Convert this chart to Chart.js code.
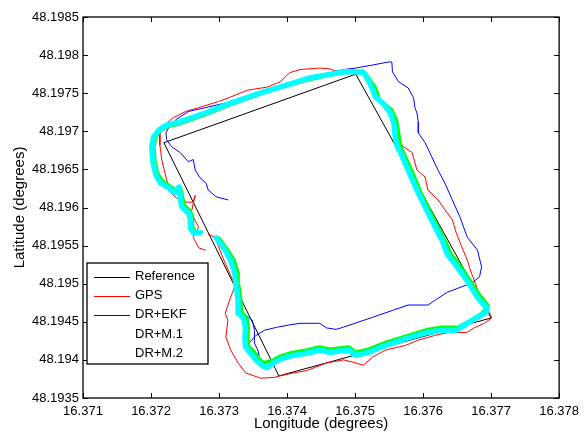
<!DOCTYPE html>
<html>
<head>
<meta charset="utf-8">
<script src="https://cdn.jsdelivr.net/npm/chart.js@4"></script>
<style>
    html, body { margin: 0; padding: 0; background: #fff; }
</style>
</head>
<body>
<canvas id="track-chart" width="585" height="433"></canvas>
<script>
// [longitude, latitude] pairs
var referencePath = [
    [16.37219, 48.19685], [16.37501, 48.19775], [16.37700, 48.19455], [16.37388, 48.19379], [16.37219, 48.19685]
];

var gpsPath = [
    [16.37284, 48.19565], [16.37294, 48.19561], [16.37307, 48.19531], [16.37320, 48.19505], [16.37323, 48.19496],
    [16.37317, 48.19482], [16.37309, 48.19461], [16.37313, 48.19452], [16.37310, 48.19430], [16.37317, 48.19413],
    [16.37328, 48.19396], [16.37339, 48.19383], [16.37361, 48.19376], [16.37381, 48.19377], [16.37390, 48.19379],
    [16.37410, 48.19383], [16.37429, 48.19386], [16.37458, 48.19396], [16.37483, 48.19400], [16.37497, 48.19397],
    [16.37512, 48.19393], [16.37526, 48.19404], [16.37545, 48.19413], [16.37574, 48.19419], [16.37593, 48.19426],
    [16.37617, 48.19432], [16.37636, 48.19436], [16.37664, 48.19436], [16.37675, 48.19442], [16.37690, 48.19448],
    [16.37701, 48.19455], [16.37694, 48.19469], [16.37683, 48.19481], [16.37678, 48.19498], [16.37671, 48.19514],
    [16.37665, 48.19531], [16.37657, 48.19548], [16.37649, 48.19566], [16.37643, 48.19584], [16.37632, 48.19597],
    [16.37622, 48.19610], [16.37607, 48.19623], [16.37603, 48.19640], [16.37591, 48.19649], [16.37584, 48.19672],
    [16.37571, 48.19680], [16.37559, 48.19693], [16.37552, 48.19724], [16.37541, 48.19737], [16.37526, 48.19757],
    [16.37513, 48.19774], [16.37501, 48.19778], [16.37472, 48.19779], [16.37462, 48.19782], [16.37448, 48.19783],
    [16.37419, 48.19781], [16.37404, 48.19777], [16.37390, 48.19765], [16.37371, 48.19758], [16.37342, 48.19754],
    [16.37317, 48.19745], [16.37299, 48.19739], [16.37270, 48.19731], [16.37251, 48.19726], [16.37233, 48.19718],
    [16.37219, 48.19708], [16.37213, 48.19698], [16.37213, 48.19682], [16.37216, 48.19662], [16.37223, 48.19636],
    [16.37229, 48.19619], [16.37245, 48.19607], [16.37262, 48.19607], [16.37265, 48.19616], [16.37259, 48.19593],
    [16.37270, 48.19574], [16.37262, 48.19561], [16.37270, 48.19547], [16.37280, 48.19544]
];

var ekfPath = [
    [16.37313, 48.19610], [16.37296, 48.19614], [16.37284, 48.19623], [16.37281, 48.19632], [16.37272, 48.19639],
    [16.37265, 48.19649], [16.37262, 48.19663], [16.37255, 48.19660], [16.37243, 48.19672], [16.37230, 48.19680],
    [16.37223, 48.19689], [16.37222, 48.19698], [16.37226, 48.19705], [16.37236, 48.19715], [16.37255, 48.19726],
    [16.37280, 48.19731], [16.37328, 48.19741], [16.37371, 48.19754], [16.37415, 48.19766], [16.37439, 48.19772],
    [16.37468, 48.19778], [16.37483, 48.19781], [16.37501, 48.19783], [16.37526, 48.19787], [16.37549, 48.19791],
    [16.37554, 48.19791], [16.37555, 48.19778], [16.37564, 48.19765], [16.37578, 48.19757], [16.37586, 48.19744],
    [16.37588, 48.19731], [16.37591, 48.19724], [16.37593, 48.19712], [16.37593, 48.19698], [16.37603, 48.19685],
    [16.37613, 48.19666], [16.37622, 48.19649], [16.37632, 48.19632], [16.37643, 48.19610], [16.37654, 48.19588],
    [16.37665, 48.19561], [16.37680, 48.19544], [16.37686, 48.19522], [16.37683, 48.19509], [16.37672, 48.19501],
    [16.37657, 48.19496], [16.37636, 48.19489], [16.37617, 48.19478], [16.37607, 48.19472], [16.37578, 48.19472],
    [16.37555, 48.19465], [16.37526, 48.19456], [16.37483, 48.19443], [16.37472, 48.19440], [16.37458, 48.19442],
    [16.37448, 48.19448], [16.37419, 48.19448], [16.37404, 48.19446], [16.37386, 48.19443], [16.37367, 48.19439],
    [16.37354, 48.19432], [16.37345, 48.19423], [16.37339, 48.19413], [16.37345, 48.19408], [16.37354, 48.19409],
    [16.37359, 48.19406], [16.37357, 48.19413], [16.37352, 48.19422], [16.37352, 48.19439], [16.37349, 48.19452],
    [16.37342, 48.19457]
];

var m1Path = [
    [16.37274, 48.19568], [16.37264, 48.19569], [16.37261, 48.19576], [16.37261, 48.19586], [16.37258, 48.19595],
    [16.37249, 48.19603], [16.37246, 48.19615], [16.37243, 48.19627], [16.37238, 48.19622], [16.37228, 48.19628],
    [16.37217, 48.19635], [16.37210, 48.19644], [16.37206, 48.19659], [16.37204, 48.19680], [16.37207, 48.19693],
    [16.37214, 48.19701], [16.37223, 48.19706], [16.37242, 48.19710], [16.37280, 48.19722], [16.37317, 48.19735],
    [16.37367, 48.19751], [16.37414, 48.19764], [16.37458, 48.19773], [16.37483, 48.19777], [16.37512, 48.19779],
    [16.37520, 48.19770], [16.37530, 48.19757], [16.37536, 48.19741], [16.37554, 48.19728], [16.37561, 48.19714],
    [16.37564, 48.19697], [16.37567, 48.19681], [16.37571, 48.19672], [16.37583, 48.19649], [16.37597, 48.19619],
    [16.37614, 48.19588], [16.37632, 48.19557], [16.37641, 48.19539], [16.37651, 48.19528], [16.37668, 48.19506],
    [16.37684, 48.19484], [16.37696, 48.19471], [16.37686, 48.19461], [16.37670, 48.19452], [16.37652, 48.19443],
    [16.37628, 48.19443], [16.37607, 48.19440], [16.37578, 48.19432], [16.37545, 48.19423], [16.37520, 48.19414],
    [16.37501, 48.19410], [16.37491, 48.19417], [16.37462, 48.19414], [16.37448, 48.19417], [16.37429, 48.19413],
    [16.37404, 48.19409], [16.37390, 48.19405], [16.37380, 48.19400], [16.37365, 48.19396], [16.37357, 48.19404],
    [16.37351, 48.19411], [16.37343, 48.19418], [16.37342, 48.19429], [16.37343, 48.19442], [16.37341, 48.19455],
    [16.37333, 48.19463], [16.37332, 48.19478], [16.37329, 48.19498], [16.37328, 48.19514], [16.37322, 48.19531],
    [16.37313, 48.19544], [16.37300, 48.19560]
];

var m2Path = [
    [16.37272, 48.19567], [16.37262, 48.19567], [16.37258, 48.19573], [16.37258, 48.19584], [16.37255, 48.19593],
    [16.37245, 48.19601], [16.37243, 48.19614], [16.37241, 48.19627], [16.37235, 48.19619], [16.37226, 48.19626],
    [16.37214, 48.19632], [16.37207, 48.19643], [16.37203, 48.19659], [16.37201, 48.19680], [16.37204, 48.19693],
    [16.37212, 48.19702], [16.37222, 48.19708], [16.37241, 48.19712], [16.37280, 48.19724], [16.37317, 48.19737],
    [16.37367, 48.19752], [16.37415, 48.19765], [16.37433, 48.19770], [16.37458, 48.19774], [16.37483, 48.19778],
    [16.37501, 48.19778], [16.37513, 48.19777], [16.37523, 48.19761], [16.37530, 48.19745], [16.37541, 48.19737],
    [16.37552, 48.19724], [16.37557, 48.19711], [16.37559, 48.19693], [16.37562, 48.19680], [16.37567, 48.19672],
    [16.37578, 48.19649], [16.37593, 48.19619], [16.37610, 48.19588], [16.37628, 48.19557], [16.37636, 48.19538],
    [16.37646, 48.19527], [16.37664, 48.19505], [16.37680, 48.19482], [16.37694, 48.19468], [16.37693, 48.19463],
    [16.37680, 48.19456], [16.37665, 48.19448], [16.37649, 48.19439], [16.37628, 48.19439], [16.37607, 48.19436],
    [16.37578, 48.19429], [16.37545, 48.19419], [16.37520, 48.19410], [16.37501, 48.19406], [16.37491, 48.19413],
    [16.37462, 48.19410], [16.37448, 48.19413], [16.37429, 48.19409], [16.37404, 48.19405], [16.37390, 48.19401],
    [16.37380, 48.19396], [16.37371, 48.19390], [16.37364, 48.19392], [16.37354, 48.19400], [16.37346, 48.19409],
    [16.37339, 48.19417], [16.37338, 48.19429], [16.37339, 48.19442], [16.37336, 48.19455], [16.37329, 48.19461],
    [16.37328, 48.19478], [16.37325, 48.19498], [16.37323, 48.19514], [16.37317, 48.19531], [16.37309, 48.19544],
    [16.37296, 48.19560]
];

var xTicks = [16.371, 16.372, 16.373, 16.374, 16.375, 16.376, 16.377, 16.378];
var yTicks = [48.1935, 48.194, 48.1945, 48.195, 48.1955, 48.196, 48.1965, 48.197, 48.1975, 48.198, 48.1985];

function toPoints(path) {
    return path.map(function (p) { return {x: p[0], y: p[1]}; });
}

function fmt(v) {
    return String(+v.toFixed(4));
}

// box round the axes with inward tick marks, like the original figure
var framePlugin = {
    id: 'frame',
    afterDatasetsDraw: function (chart) {
        var ctx = chart.ctx, a = chart.chartArea;
        var sx = chart.scales.x, sy = chart.scales.y;
        var tick = 5;
        ctx.save();
        ctx.strokeStyle = '#000';
        ctx.lineWidth = 1.3;
        ctx.strokeRect(a.left, a.top, a.right - a.left, a.bottom - a.top);
        ctx.lineWidth = 1;
        ctx.beginPath();
        xTicks.forEach(function (v) {
            var px = Math.round(sx.getPixelForValue(v)) + 0.5;
            ctx.moveTo(px, a.bottom); ctx.lineTo(px, a.bottom - tick);
            ctx.moveTo(px, a.top); ctx.lineTo(px, a.top + tick);
        });
        yTicks.forEach(function (v) {
            var py = Math.round(sy.getPixelForValue(v)) + 0.5;
            ctx.moveTo(a.left, py); ctx.lineTo(a.left + tick, py);
            ctx.moveTo(a.right, py); ctx.lineTo(a.right - tick, py);
        });
        ctx.stroke();
        ctx.restore();
    }
};

// legend box in the lower left corner, M.1 / M.2 have no line sample
var boxLegendPlugin = {
    id: 'boxLegend',
    afterDraw: function (chart) {
        var ctx = chart.ctx, a = chart.chartArea;
        var left = a.left + 4, top = a.bottom - 135, w = 121, h = 101;
        var rowH = 19.2;
        ctx.save();
        ctx.fillStyle = '#fff';
        ctx.fillRect(left, top, w, h);
        ctx.strokeStyle = '#000';
        ctx.lineWidth = 1.3;
        ctx.strokeRect(left, top, w, h);
        ctx.font = '13px "Liberation Sans", Arial, sans-serif';
        ctx.textBaseline = 'middle';
        ctx.fillStyle = '#000';
        chart.data.datasets.forEach(function (ds, i) {
            var y = top + 13.5 + i * rowH;
            if (ds.legendSample) {
                ctx.strokeStyle = ds.borderColor;
                ctx.lineWidth = 1;
                ctx.beginPath();
                ctx.moveTo(left + 7, Math.round(y) + 0.5);
                ctx.lineTo(left + 43, Math.round(y) + 0.5);
                ctx.stroke();
            }
            ctx.fillText(ds.label, left + 48, y);
        });
        ctx.restore();
    }
};

var tickFont = {family: '"Liberation Sans", Arial, sans-serif', size: 13};
var titleFont = {family: '"Liberation Sans", Arial, sans-serif', size: 15};

var ctx = document.getElementById('track-chart').getContext('2d');
var chart = new Chart(ctx, {
    type: 'scatter',
    data: {
        datasets: [
            {label: 'Reference', data: toPoints(referencePath), borderColor: '#000000', borderWidth: 1, order: 4, legendSample: true},
            {label: 'GPS', data: toPoints(gpsPath), borderColor: '#ff0000', borderWidth: 1, order: 3, legendSample: true},
            {label: 'DR+EKF', data: toPoints(ekfPath), borderColor: '#0000ff', borderWidth: 1, order: 2, legendSample: true},
            {label: 'DR+M.1', data: toPoints(m1Path), borderColor: '#00ff00', borderWidth: 3.5, order: 1, legendSample: false},
            {label: 'DR+M.2', data: toPoints(m2Path), borderColor: '#00ffff', borderWidth: 5.5, order: 0, legendSample: false}
        ]
    },
    options: {
        responsive: false,
        animation: false,
        devicePixelRatio: 1,
        showLine: true,
        elements: {
            point: {radius: 0, hoverRadius: 0},
            line: {tension: 0, fill: false, borderJoinStyle: 'round', borderCapStyle: 'round'}
        },
        layout: {padding: {top: 17, right: 19, left: 0, bottom: 0}},
        plugins: {
            legend: {display: false},
            tooltip: {enabled: false}
        },
        scales: {
            x: {
                type: 'linear',
                min: 16.371,
                max: 16.378,
                afterBuildTicks: function (scale) {
                    scale.ticks = xTicks.map(function (v) { return {value: v}; });
                },
                afterFit: function (scale) { scale.height = 35; },
                grid: {display: false, drawTicks: false},
                border: {display: false},
                ticks: {
                    autoSkip: false, maxRotation: 0, padding: 6, color: '#000', font: tickFont,
                    callback: function (v) { return fmt(v); }
                },
                title: {display: true, text: 'Longitude (degrees)', color: '#000', font: titleFont, padding: 0}
            },
            y: {
                type: 'linear',
                min: 48.1935,
                max: 48.1985,
                afterBuildTicks: function (scale) {
                    scale.ticks = yTicks.map(function (v) { return {value: v}; });
                },
                afterFit: function (scale) { scale.width = 83; },
                grid: {display: false, drawTicks: false},
                border: {display: false},
                ticks: {
                    autoSkip: false, padding: 4, color: '#000', font: tickFont,
                    callback: function (v) { return fmt(v); }
                },
                title: {display: true, text: 'Latitude (degrees)', color: '#000', font: titleFont, padding: {top: 11, bottom: 0}}
            }
        }
    },
    plugins: [framePlugin, boxLegendPlugin]
});
</script>
</body>
</html>
